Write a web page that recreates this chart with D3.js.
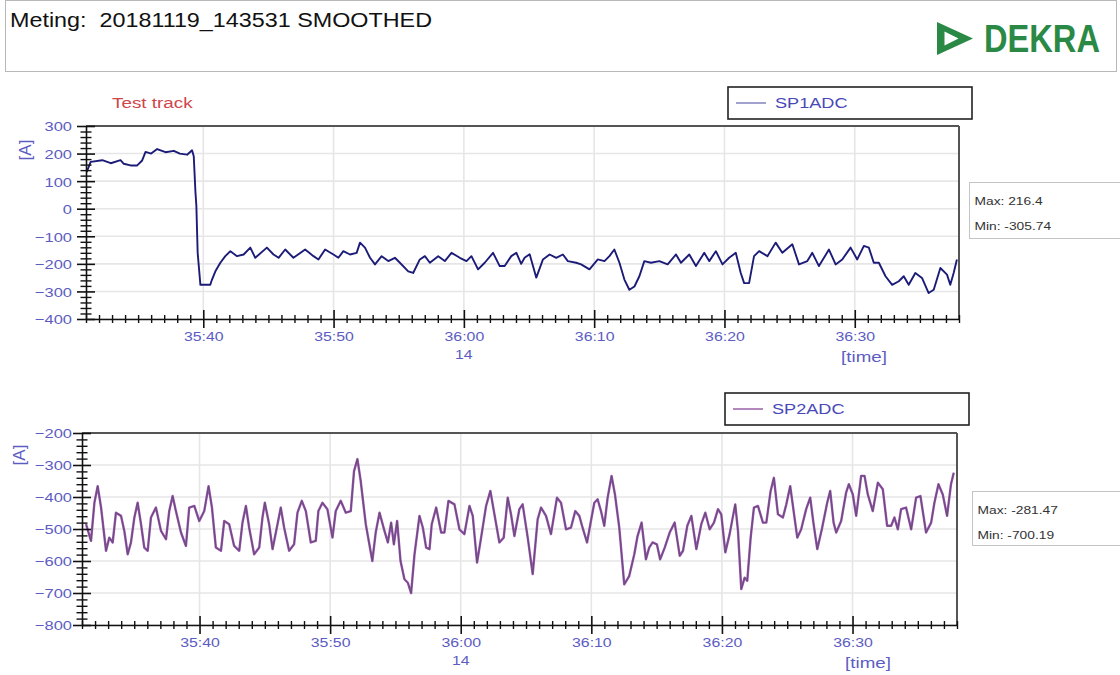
<!DOCTYPE html>
<html><head><meta charset="utf-8">
<script src="https://cdn.jsdelivr.net/npm/d3@7"></script>
<style>body{margin:0;background:#fff;} svg{display:block;font-family:"Liberation Sans",Arial,sans-serif;}</style>
</head><body><svg id="c" width="1120" height="675"></svg>
<script>
// ---------- data ----------
const titleText = "Meting:  20181119_143531 SMOOTHED";
const brandText = "DEKRA";
const annotationText = "Test track";
const seriesNames = ["SP1ADC", "SP2ADC"];
const statsSP1 = ["Max: 216.4", "Min: -305.74"];
const statsSP2 = ["Max: -281.47", "Min: -700.19"];
const hourLabel = "14";
const xAxisTitle = "[time]";
const yAxisTitle = "[A]";
const timeStart = "14:35:31";
const timeEnd = "14:36:38";
const xTickLabels = ["35:40", "35:50", "36:00", "36:10", "36:20", "36:30"];
const yTicksSP1 = [300, 200, 100, 0, -100, -200, -300, -400];
const yTicksSP2 = [-200, -300, -400, -500, -600, -700, -800];

// seconds after 14:35:30
const timesSP1 = [1.05,1.36,2.25,2.9,3.65,3.9,4.42,4.93,5.31,5.57,6.0,6.46,7.1,7.74,8.2,8.76,9.14,9.27,9.40,9.47,9.57,9.78,
 10.54,10.67,10.93,11.31,11.69,12.08,12.59,13.10,13.61,13.99,14.88,15.39,15.78,16.29,16.92,17.82,18.46,18.84,19.35,19.99,
 20.37,20.75,21.26,21.77,22.03,22.41,22.80,23.18,23.69,24.20,24.71,25.09,25.73,26.11,26.62,27.01,27.39,28.03,28.54,29.05,
 29.69,30.20,30.58,31.09,31.60,32.24,32.75,33.13,33.64,34.03,34.4,34.66,35.05,35.56,36.07,36.58,37.09,37.60,37.98,38.62,
 39.00,39.64,40.28,40.79,41.17,41.55,41.94,42.32,42.70,43.09,43.47,43.85,44.36,45.00,45.64,46.28,46.66,47.30,47.81,48.45,
 48.83,49.34,49.85,50.36,50.87,51.25,51.51,51.89,52.27,52.66,53.30,53.93,54.44,55.21,55.72,56.36,56.74,57.25,58.02,58.53,
 59.04,59.68,60.19,60.70,61.08,61.46,61.85,62.36,62.87,63.38,63.76,64.14,64.65,65.16,65.67,66.06,66.57,67.08,67.33,67.59,67.84];
const valuesSP1 = [133,170,176,165,176,163,157,157,175,206,200,216.4,205,210,200,196,212,190,60,11,-160,-276,
 -276,-257,-227,-196,-172,-154,-172,-166,-141,-178,-141,-166,-178,-148,-178,-148,-172,-184,-148,-166,
 -178,-154,-166,-160,-123,-141,-178,-202,-172,-190,-178,-196,-227,-233,-184,-172,-196,-172,-190,-160,
 -178,-190,-172,-220,-196,-160,-208,-208,-172,-160,-200,-178,-165,-250,-184,-166,-178,-166,-190,-196,
 -202,-220,-184,-190,-172,-148,-196,-257,-294,-282,-245,-190,-196,-190,-202,-166,-196,-166,-208,-160,
 -190,-154,-202,-178,-160,-233,-270,-270,-172,-154,-172,-123,-160,-129,-202,-190,-160,-208,-148,-202,
 -184,-141,-184,-135,-141,-196,-196,-245,-276,-263,-245,-276,-233,-251,-305.74,-294,-215,-239,-276,-233,-184];

const timesSP2 = [1.31,1.69,1.95,2.2,2.46,2.84,3.09,3.35,3.6,3.99,4.24,4.5,4.75,5.01,5.26,5.52,5.77,6.03,6.28,6.66,7.05,7.43,
 7.68,7.94,8.19,8.58,8.96,9.21,9.6,9.98,10.36,10.69,10.95,11.25,11.64,11.89,12.27,12.65,13.04,13.29,13.55,13.8,14.18,14.57,
 14.82,15.0,15.33,15.59,15.97,16.22,16.48,16.86,17.24,17.5,17.83,18.14,18.52,18.9,19.1,19.41,19.79,20.18,20.43,20.81,21.2,
 21.58,21.83,22.09,22.34,22.73,23.23,23.49,23.78,24.16,24.42,24.67,24.88,25.13,25.39,25.69,25.95,26.2,26.46,26.84,27.1,
 27.35,27.61,27.78,28.12,28.5,28.75,29.06,29.52,29.9,30.28,30.67,30.92,31.25,31.56,31.94,32.27,32.58,32.96,33.29,33.6,
 33.85,34.11,34.49,34.74,35.13,35.51,35.89,36.15,36.53,36.91,37.37,37.68,38.06,38.44,38.77,39.08,39.33,39.67,39.97,40.23,
 40.48,40.74,40.99,41.25,41.55,41.81,42.14,42.52,42.9,43.29,43.54,43.85,44.18,44.43,44.69,45.02,45.27,45.62,46.0,46.38,
 46.77,47.02,47.35,47.66,48.04,48.42,48.73,49.06,49.39,49.7,49.95,50.26,50.59,50.85,51.02,51.23,51.48,51.74,51.94,52.2,
 52.45,52.76,53.14,53.4,53.73,53.98,54.29,54.67,54.93,55.23,55.49,55.77,56.07,56.45,56.76,57.02,57.3,57.65,58.06,58.29,
 58.55,58.75,59.13,59.51,59.72,60.02,60.28,60.66,60.92,61.17,61.55,61.94,62.32,62.65,62.96,63.21,63.47,63.72,64.1,64.49,
 64.87,65.2,65.63,66.02,66.27,66.58,66.91,67.24,67.54,67.75];
const valuesSP2 = [-485,-537,-418,-366,-433,-568,-527,-542,-449,-459,-506,-579,-542,-464,-418,-485,-558,-568,-464,-433,-506,-532,
 -444,-397,-444,-511,-553,-433,-428,-475,-444,-366,-433,-558,-568,-475,-485,-553,-568,-480,-428,-496,-579,-558,
 -464,-418,-485,-563,-485,-433,-496,-568,-548,-449,-412,-444,-542,-537,-444,-418,-438,-527,-444,-412,-449,
 -444,-319,-281.47,-350,-485,-600,-511,-449,-506,-542,-480,-548,-475,-600,-657,-668,-700.19,-579,-459,-496,
 -558,-563,-485,-433,-511,-511,-412,-423,-501,-516,-428,-459,-605,-527,-428,-381,-454,-542,-527,-402,
 -454,-522,-438,-423,-527,-641,-470,-433,-459,-516,-402,-418,-501,-496,-444,-459,-496,-542,-475,-418,
 -407,-444,-490,-402,-334,-392,-496,-673,-647,-579,-522,-480,-595,-558,-542,-548,-595,-558,-511,-480,
 -584,-568,-490,-459,-563,-485,-449,-501,-480,-438,-454,-573,-516,-459,-423,-506,-688,-652,-662,-527,
 -433,-428,-480,-480,-381,-340,-454,-464,-423,-366,-444,-527,-501,-438,-402,-485,-563,-501,-418,-381,
 -480,-511,-475,-386,-360,-392,-459,-334,-334,-392,-444,-355,-376,-490,-490,-464,-501,-438,-433,-501,
 -402,-397,-511,-480,-418,-360,-392,-459,-360,-324];

// ---------- drawing ----------
const svg = d3.select("#c");
const parseT = d3.timeParse("%H:%M:%S");
const base = parseT("14:35:30");
const toDate = s => new Date(base.getTime() + s * 1000);
const LABEL = "#5c5cc2";

function stretch(sel, sx, sy) {
  sy = sy || 1;
  sel.each(function () {
    const t = d3.select(this);
    const x = +t.attr("x") || 0, y = +t.attr("y") || 0;
    t.attr("transform", `translate(${x},${y}) scale(${sx},${sy}) translate(${-x},${-y})`);
  });
}

// header
svg.append("rect").attr("x", 5.5).attr("y", 0.5).attr("width", 1111).attr("height", 71)
  .attr("fill", "none").attr("stroke", "#b8b8b8");
svg.append("text").attr("x", 10).attr("y", 27).style("white-space", "pre")
  .attr("font-size", 20).attr("textLength", 422).attr("lengthAdjust", "spacingAndGlyphs")
  .attr("fill", "#111").text(titleText);
svg.append("path")
  .attr("d", "M937,22 L973,38.5 L937,55 Z M944.5,31.5 L958.5,38.5 L944.5,45.5 Z")
  .attr("fill-rule", "evenodd").attr("fill", "#2a8a45");
stretch(svg.append("text").attr("x", 984).attr("y", 52).attr("font-size", 31).attr("font-weight", "bold")
  .attr("textLength", 116).attr("lengthAdjust", "spacingAndGlyphs")
  .attr("fill", "#2a8a45").text(brandText), 1, 1.25);

// annotation
stretch(svg.append("text").attr("x", 112).attr("y", 108).attr("font-size", 14.5)
  .attr("fill", "#d0454a").text(annotationText), 1.3);

function drawPanel(p) {
  const g = svg.append("g");
  const x = d3.scaleTime().domain([parseT(timeStart), parseT(timeEnd)]).range([p.left, p.right]);
  const y = d3.scaleLinear().domain([d3.min(p.yTicks), d3.max(p.yTicks)]).range([p.bottom, p.top]);
  const majors = xTickLabels.map(l => parseT("14:" + l));

  // grid
  g.append("g").selectAll("line").data(p.yTicks).join("line")
    .attr("x1", p.left).attr("x2", p.right).attr("y1", d => y(d)).attr("y2", d => y(d))
    .attr("stroke", "#e6e6e6").attr("stroke-width", 1.6);
  g.append("g").selectAll("line").data(majors).join("line")
    .attr("x1", d => x(d)).attr("x2", d => x(d)).attr("y1", p.top).attr("y2", p.bottom)
    .attr("stroke", "#e6e6e6").attr("stroke-width", 1.6);

  // data line
  const pts = p.times.map((t, i) => [toDate(t), p.values[i]]);
  const line = d3.line().x(d => x(d[0])).y(d => y(d[1]));
  p.strokes.forEach(s => {
    g.append("path").datum(pts).attr("d", line).attr("fill", "none")
      .attr("stroke", s.c).attr("stroke-width", s.w).attr("stroke-linejoin", "round");
  });

  // frame
  g.append("line").attr("x1", p.left).attr("x2", p.right).attr("y1", p.top).attr("y2", p.top)
    .attr("stroke", "#555").attr("stroke-width", 2);
  g.append("line").attr("x1", p.right).attr("x2", p.right).attr("y1", p.top).attr("y2", p.bottom)
    .attr("stroke", "#555").attr("stroke-width", 2);

  // x minor ticks
  const minor = d3.timeSecond.range(parseT(timeStart), new Date(parseT(timeEnd).getTime() + 1))
    .filter(d => d.getSeconds() % 10 !== 0);
  const xm = g.append("g").attr("transform", `translate(0,${p.bottom})`)
    .call(d3.axisBottom(x).tickValues(minor).tickFormat("").tickSizeOuter(0));
  xm.select(".domain").remove();
  xm.selectAll(".tick line").attr("y1", -4).attr("y2", 4).attr("stroke", "#111").attr("stroke-width", 1.4);
  const ym = g.append("g").attr("transform", `translate(${p.left},0)`)
    .call(d3.axisLeft(y).tickValues(d3.range(d3.min(p.yTicks), d3.max(p.yTicks) + 1, 20).filter(v => v % 100 !== 0))
      .tickFormat("").tickSizeOuter(0));
  ym.select(".domain").remove();
  ym.selectAll(".tick line").attr("x1", -5.5).attr("x2", 5.5).attr("stroke", "#111").attr("stroke-width", 1.4);

  // major axes
  const xa = g.append("g").attr("transform", `translate(0,${p.bottom})`)
    .call(d3.axisBottom(x).tickValues(majors).tickFormat(d3.timeFormat("%M:%S")).tickSizeOuter(0));
  xa.select(".domain").attr("stroke", "#111").attr("stroke-width", 1.6);
  xa.selectAll(".tick line").attr("y1", -9).attr("y2", 9).attr("stroke", "#111").attr("stroke-width", 1.6);
  xa.selectAll(".tick text").attr("y", 22.5).attr("dy", 0).attr("fill", LABEL)
    .attr("font-size", 13).attr("font-family", "Liberation Sans, Arial, sans-serif")
    .attr("transform", "scale(1.22,1)");

  const ya = g.append("g").attr("transform", `translate(${p.left},0)`)
    .call(d3.axisLeft(y).tickValues(p.yTicks).tickFormat(d3.format("d")).tickSizeOuter(0));
  ya.select(".domain").attr("stroke", "#111").attr("stroke-width", 1.6);
  ya.selectAll(".tick line").attr("x1", -9).attr("x2", 9).attr("stroke", "#111").attr("stroke-width", 1.6);
  ya.selectAll(".tick text").attr("x", 0).attr("dy", "0.36em").attr("fill", LABEL)
    .attr("font-size", 13.5).attr("font-family", "Liberation Sans, Arial, sans-serif")
    .attr("transform", `translate(${-p.labelGap},0) scale(1.22,1)`);

  // hour & axis titles
  const hourX = x(parseT("14:36:00"));
  stretch(g.append("text").attr("x", hourX).attr("y", p.bottom + 40).attr("text-anchor", "middle")
    .attr("font-size", 13).attr("fill", LABEL).text(hourLabel), 1.22);
  stretch(g.append("text").attr("x", p.timeX).attr("y", p.bottom + 43).attr("text-anchor", "middle")
    .attr("font-size", 15).attr("fill", LABEL).text(xAxisTitle), 1.25);
  g.append("text").attr("transform", `translate(${p.aX},${p.aY}) rotate(-90)`)
    .attr("text-anchor", "middle").attr("dy", "0.35em").attr("font-size", 17)
    .attr("fill", LABEL).text(yAxisTitle);

  // legend box
  const L = p.legend;
  g.append("rect").attr("x", L.x).attr("y", L.y).attr("width", 244).attr("height", 32)
    .attr("fill", "#fff").attr("stroke", "#222").attr("stroke-width", 1.6);
  g.append("line").attr("x1", L.x + 8).attr("x2", L.x + 38).attr("y1", L.y + 16).attr("y2", L.y + 16)
    .attr("stroke", p.legendColor).attr("stroke-width", 1.3);
  stretch(g.append("text").attr("x", L.x + 47).attr("y", L.y + 21).attr("font-size", 14.5)
    .attr("fill", "#4848b8").text(p.name), 1.25);

  // stats box
  const S = p.stats;
  g.append("rect").attr("x", S.x).attr("y", S.y).attr("width", 170).attr("height", S.h)
    .attr("fill", "#fff").attr("stroke", "#c4c4c4").attr("stroke-width", 1);
  p.statLines.forEach((s, i) => {
    stretch(g.append("text").attr("x", S.x + 5).attr("y", S.y + 23 + i * 25).attr("font-size", 11.5)
      .attr("fill", "#333").text(s), 1.2);
  });
}

drawPanel({
  left: 86, right: 959, top: 126, bottom: 319, yTicks: yTicksSP1, labelGap: 14,
  times: timesSP1, values: valuesSP1, name: seriesNames[0],
  strokes: [{ c: "#1c1c78", w: 1.9 }], legendColor: "#7070b4",
  legend: { x: 728, y: 87 }, stats: { x: 969.5, y: 182.5, h: 56 }, statLines: statsSP1,
  timeX: 864, aX: 25, aY: 150
});
drawPanel({
  left: 82, right: 957, top: 433, bottom: 625, yTicks: yTicksSP2, labelGap: 10,
  times: timesSP2, values: valuesSP2, name: seriesNames[1],
  strokes: [{ c: "#9a52b4", w: 2.4 }, { c: "#5e4e68", w: 0.9 }], legendColor: "#8a4a9a",
  legend: { x: 725, y: 393 }, stats: { x: 972.5, y: 491.5, h: 54 }, statLines: statsSP2,
  timeX: 868, aX: 19, aY: 455
});
</script>
</body></html>
